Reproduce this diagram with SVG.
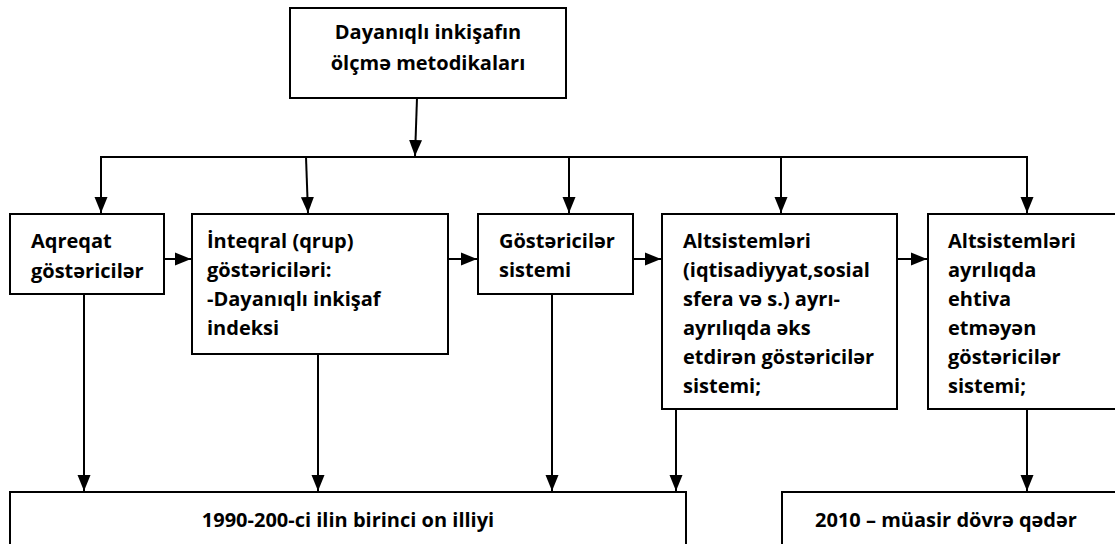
<svg xmlns="http://www.w3.org/2000/svg" width="1115" height="544" viewBox="0 0 1115 544">
<style>
.box{fill:#fff;stroke:#000;stroke-width:2}
.t{font-family:"Open Sans","Noto Sans","Liberation Sans",sans-serif;font-weight:bold;font-size:20px;fill:#000}
.c{text-anchor:middle}
.ln{fill:none;stroke:#000;stroke-width:2}
</style>
<defs>
<marker id="ah" markerUnits="userSpaceOnUse" markerWidth="16" markerHeight="14" viewBox="0 0 16 14" refX="16" refY="7" orient="auto">
<path d="M0,0.5 L16,7 L0,13.5 Z" fill="#000"/>
</marker>
</defs>
<g id="connectors">
<line class="ln" x1="417" y1="98" x2="415" y2="156" marker-end="url(#ah)"/>
<line class="ln" x1="100" y1="157" x2="1028" y2="157"/>
<line class="ln" x1="101" y1="157" x2="101" y2="213" marker-end="url(#ah)"/>
<line class="ln" x1="306" y1="157" x2="308" y2="213" marker-end="url(#ah)"/>
<line class="ln" x1="569" y1="157" x2="569" y2="213" marker-end="url(#ah)"/>
<line class="ln" x1="781" y1="157" x2="781" y2="213" marker-end="url(#ah)"/>
<line class="ln" x1="1027" y1="157" x2="1027" y2="213" marker-end="url(#ah)"/>
<line class="ln" x1="164" y1="259" x2="191" y2="259" marker-end="url(#ah)"/>
<line class="ln" x1="448" y1="259" x2="477" y2="259" marker-end="url(#ah)"/>
<line class="ln" x1="633" y1="259" x2="661" y2="259" marker-end="url(#ah)"/>
<line class="ln" x1="897" y1="259" x2="927" y2="259" marker-end="url(#ah)"/>
<line class="ln" x1="84" y1="294" x2="84" y2="491" marker-end="url(#ah)"/>
<line class="ln" x1="318" y1="354" x2="318" y2="491" marker-end="url(#ah)"/>
<line class="ln" x1="552" y1="294" x2="552" y2="491" marker-end="url(#ah)"/>
<line class="ln" x1="676" y1="409" x2="676" y2="491" marker-end="url(#ah)"/>
<line class="ln" x1="1027" y1="409" x2="1027" y2="491" marker-end="url(#ah)"/>
</g>
<g id="top">
<rect class="box" x="290" y="8" width="276" height="90"/>
<text class="t c" x="428" y="39">Dayanıqlı inkişafın</text>
<text class="t c" x="428" y="70">ölçmə metodikaları</text>
</g>
<g id="n1">
<rect class="box" x="10" y="214" width="154" height="80"/>
<text class="t" x="31" y="248">Aqreqat</text>
<text class="t" x="31" y="278">göstəricilər</text>
</g>
<g id="n2">
<rect class="box" x="192" y="214" width="256" height="140"/>
<text class="t" x="207" y="248">İnteqral (qrup)</text>
<text class="t" x="207" y="277">göstəriciləri:</text>
<text class="t" x="207" y="306">-Dayanıqlı inkişaf</text>
<text class="t" x="207" y="335">indeksi</text>
</g>
<g id="n3">
<rect class="box" x="478" y="214" width="155" height="80"/>
<text class="t" x="499" y="248">Göstəricilər</text>
<text class="t" x="499" y="277">sistemi</text>
</g>
<g id="n4">
<rect class="box" x="662" y="214" width="235" height="195"/>
<text class="t" x="683" y="248">Altsistemləri</text>
<text class="t" x="683" y="277">(iqtisadiyyat,sosial</text>
<text class="t" x="683" y="306">sfera və s.) ayrı-</text>
<text class="t" x="683" y="335">ayrılıqda əks</text>
<text class="t" x="683" y="364">etdirən göstəricilər</text>
<text class="t" x="683" y="393">sistemi;</text>
</g>
<g id="n5">
<rect class="box" x="928" y="214" width="200" height="195"/>
<text class="t" x="948" y="248">Altsistemləri</text>
<text class="t" x="948" y="277">ayrılıqda</text>
<text class="t" x="948" y="306">ehtiva</text>
<text class="t" x="948" y="335">etməyən</text>
<text class="t" x="948" y="364">göstəricilər</text>
<text class="t" x="948" y="393">sistemi;</text>
</g>
<g id="b1">
<rect class="box" x="10" y="492" width="676" height="60"/>
<text class="t c" x="348" y="527">1990-200-ci ilin birinci on illiyi</text>
</g>
<g id="b2">
<rect class="box" x="782" y="492" width="346" height="60"/>
<text class="t c" x="946" y="527">2010 – müasir dövrə qədər</text>
</g>
</svg>
